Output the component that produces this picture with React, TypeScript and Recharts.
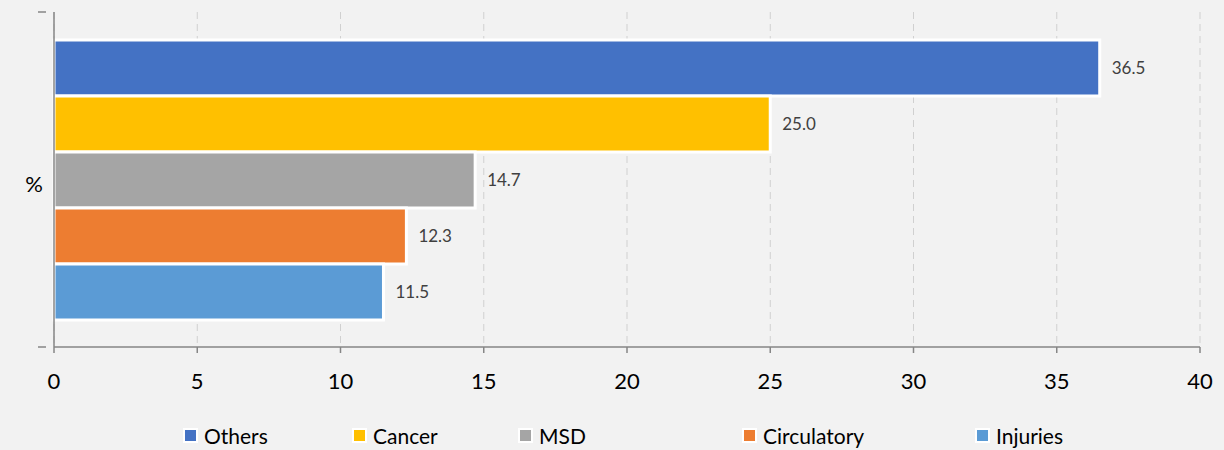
import React from 'react'
import { BarChart, Bar, XAxis, YAxis, CartesianGrid, Legend, LabelList } from 'recharts'

const categories = ['%']
const seriesNames = ['Others', 'Cancer', 'MSD', 'Circulatory', 'Injuries']
const seriesValues = [36.5, 25.0, 14.7, 12.3, 11.5]
const seriesColors = ['#4472C4', '#FFC000', '#A5A5A5', '#ED7D31', '#5B9BD5']
const xTicks = [0, 5, 10, 15, 20, 25, 30, 35, 40]

const data = categories.map(name => {
  const row: Record<string, string | number> = { name }
  seriesNames.forEach((s, i) => { row[s] = seriesValues[i] })
  return row
})

const FONT = 'Lato, "Open Sans", sans-serif'
const AXIS = '#868686'
// legend item widths, matched to the Excel-style spacing
const legendItemWidths = [169, 166, 224, 233, 120]

// category tick: label plus boundary tick marks at band edges
function CatTick(props: any) {
  const { x, y, payload, height } = props
  const half = typeof height === 'number' ? height / 2 : 0
  return (
    <g>
      <text x={x - 3} y={y} dy={12} textAnchor="end" fill="#000" fontSize={22} fontFamily={FONT}>
        {payload.value}
      </text>
      {half > 0 && (
        <>
          <line x1={x - 8} x2={x} y1={y - half} y2={y - half} stroke={AXIS} strokeWidth={1.5} />
          <line x1={x - 8} x2={x} y1={y + half} y2={y + half} stroke={AXIS} strokeWidth={1.5} />
        </>
      )}
    </g>
  )
}

function LegendContent() {
  return (
    <div style={{ display: 'flex', justifyContent: 'flex-start', paddingLeft: 183, fontFamily: FONT, fontSize: 21, color: '#000', paddingTop: 16 }}>
      {seriesNames.map((s, i) => (
        <div key={s} style={{ display: 'flex', alignItems: 'center', gap: 6, width: legendItemWidths[i] }}>
          <span style={{ width: 11, height: 11, background: seriesColors[i], border: '2px solid #fff', display: 'inline-block' }} />
          <span>{s}</span>
        </div>
      ))}
    </div>
  )
}

export default function App() {
  return (
    <div style={{ position: 'absolute', left: 0, top: 0, width: 1224, height: 450, background: '#F2F2F2' }}>
      <BarChart
        width={1224}
        height={450}
        data={data}
        layout="vertical"
        barCategoryGap={28}
        barGap={0}
        margin={{ top: 12, right: 24, bottom: 5, left: 0 }}
      >
        <CartesianGrid horizontal={false} stroke="#D0D0D0" strokeDasharray="7 5" />
        <XAxis
          type="number"
          domain={[0, 40]}
          ticks={xTicks}
          interval={0}
          height={60}
          stroke={AXIS}
          strokeWidth={1.5}
          tickSize={6}
          tick={{ fill: '#000', fontSize: 22, fontFamily: FONT, dy: 18 }}
        />
        <YAxis
          type="category"
          dataKey="name"
          width={54}
          stroke={AXIS}
          strokeWidth={1.5}
          tickLine={false}
          tick={<CatTick />}
        />
        <Legend verticalAlign="bottom" height={38} content={<LegendContent />} />
        {seriesNames.map((s, i) => (
          <Bar key={s} dataKey={s} fill={seriesColors[i]} stroke="#fff" strokeWidth={3} isAnimationActive={false}>
            <LabelList
              dataKey={s}
              position="right"
              offset={12}
              formatter={(v: any) => Number(v).toFixed(1)}
              style={{ fill: '#404040', fontSize: 17, fontFamily: FONT }}
            />
          </Bar>
        ))}
      </BarChart>
    </div>
  )
}
